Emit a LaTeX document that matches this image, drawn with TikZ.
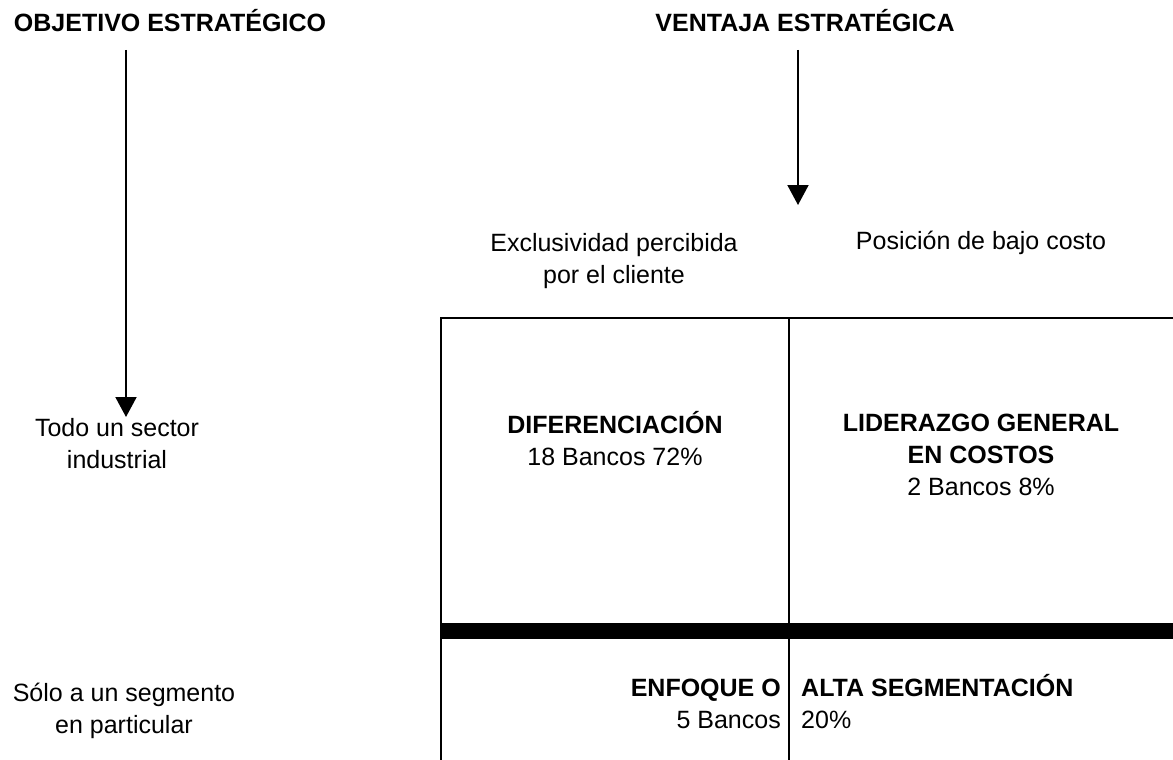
\documentclass[tikz,border=0pt]{standalone}
\usepackage{fontspec}
\setmainfont{Liberation Sans}
\usepackage{tikz}
\usetikzlibrary{positioning,arrows.meta}

\begin{document}
\begin{tikzpicture}[
    x=1pt, y=-1pt,
    font=\fontsize{25}{32}\selectfont,
    >={Triangle[width=21pt,length=20pt]},
    headlbl/.style={font=\fontsize{25}{32}\selectfont\bfseries, inner sep=0pt, anchor=base},
    sidelbl/.style={inner sep=0pt, align=center, anchor=base},
    cellbox/.style={inner sep=0pt, align=center, anchor=base},
    arr/.style={->, line width=2pt},
    gridline/.style={line width=2pt},
]
\useasboundingbox (0,0) rectangle (1173,760);

% === HEADERS ===
\node[headlbl] (objetivo) at (170, 32) {OBJETIVO ESTRATÉGICO};
\node[headlbl] (ventaja) at (805, 32) {VENTAJA ESTRATÉGICA};

% Arrows
\coordinate (objtop) at (126, 50);
\coordinate (objtip) at (126, 417);
\draw[arr] (objtop) -- (objtip);
\coordinate (ventop) at (798, 50);
\coordinate (ventip) at (798, 205);
\draw[arr] (ventop) -- (ventip);

% Column labels (base = last line)
\node[sidelbl] (exclus) at (614, 283) {Exclusividad percibida\\por el cliente};
\node[sidelbl] (bajocosto) at (981, 249) {Posición de bajo costo};

% Row labels
\node[sidelbl] (sector) at (117, 468) {Todo un sector\\industrial};
\node[sidelbl] (segmento) at (124, 733) {Sólo a un segmento\\en particular};

% === MATRIX ===
\draw[gridline] (441, 760) |- (1173, 318);
\draw[gridline] (789, 318) -- (789, 760);
\fill (441, 623) rectangle (1173, 639);

% Cells
\node[cellbox] (difer) at (615, 465) {\textbf{DIFERENCIACIÓN}\\18 Bancos 72\%};
\node[cellbox] (lider) at (981, 495) {\textbf{LIDERAZGO GENERAL}\\\textbf{EN COSTOS}\\2 Bancos 8\%};
\node[cellbox, align=right, anchor=base east] (enfoque) at (781, 728) {\textbf{ENFOQUE O}\\5 Bancos};
\node[cellbox, align=left, anchor=base west] (altaseg) at (801, 728) {\textbf{ALTA SEGMENTACIÓN}\\20\%};

\end{tikzpicture}
\end{document}
